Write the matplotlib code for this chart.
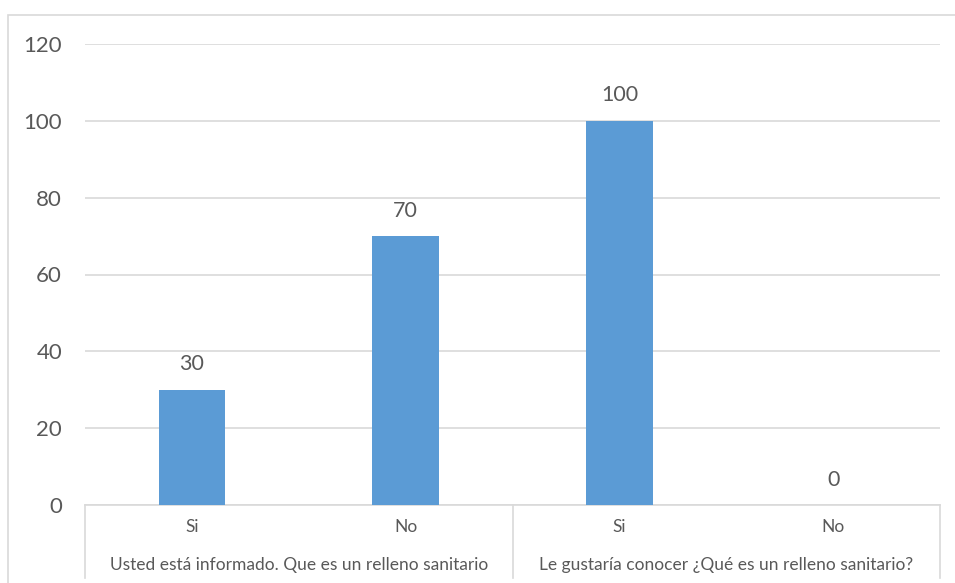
import matplotlib
matplotlib.use("Agg")
import matplotlib.pyplot as plt
from matplotlib.lines import Line2D
from matplotlib.patches import Rectangle
from matplotlib.transforms import blended_transform_factory

# --- data ---
answers = ["Si", "No", "Si", "No"]
questions = ["Usted está informado. Que es un relleno sanitario",
             "Le gustaría conocer ¿Qué es un relleno sanitario?"]
values = [30, 70, 100, 0]
y_ticks = [0, 20, 40, 60, 80, 100, 120]

TXT = "#595959"
GRID = "#d9d9d9"
BAR = "#5b9bd5"

plt.rcParams["font.family"] = ["Lato", "DejaVu Sans"]

fig = plt.figure(figsize=(9.55, 5.83), dpi=100)
ax = fig.add_axes([85 / 955, 1 - 505 / 583, 855 / 955, 461 / 583])

x = list(range(len(values)))
bars = ax.bar(x, values, width=0.31, color=BAR, zorder=3)
for xi, v in zip(x, values):
    ax.text(xi, v + 4, str(v), ha="center", va="bottom", fontsize=15.5, color=TXT)

ax.set_xlim(-0.5, len(values) - 0.5)
ax.set_ylim(0, 120)
ax.set_yticks(y_ticks)
ax.tick_params(axis="y", length=0, pad=16.5, labelsize=16, labelcolor=TXT)
ax.tick_params(axis="x", length=0, labelbottom=False)
ax.grid(axis="y", color=GRID, lw=1.2, zorder=0)
for s in ["top", "right", "left"]:
    ax.spines[s].set_visible(False)
ax.spines["bottom"].set_color(GRID)
ax.spines["bottom"].set_linewidth(1.2)

# multi-level category axis
tr = blended_transform_factory(ax.transData, fig.transFigure)
y_top = 1 - 505 / 583
y_bot = 1 - 578 / 583
n_per = len(answers) // len(questions)
for k in range(len(questions) + 1):
    xb = k * n_per - 0.5
    fig.add_artist(Line2D([xb, xb], [y_top, y_bot], transform=tr, color=GRID, lw=1.2))
for xi, a in zip(x, answers):
    fig.text(xi, 1 - 527 / 583, a, transform=tr, ha="center", va="center", fontsize=12.5, color=TXT)
for k, q in enumerate(questions):
    xc = k * n_per + (n_per - 1) / 2
    fig.text(xc, 1 - 565 / 583, q, transform=tr, ha="center", va="center", fontsize=12.5, color=TXT)

# chart border
fig.add_artist(Rectangle((8 / 955, -0.1), 1.1, 1.1 - 15 / 583, transform=fig.transFigure,
                         fill=False, edgecolor=GRID, lw=1.2))

fig.savefig("out.png", dpi=100)
